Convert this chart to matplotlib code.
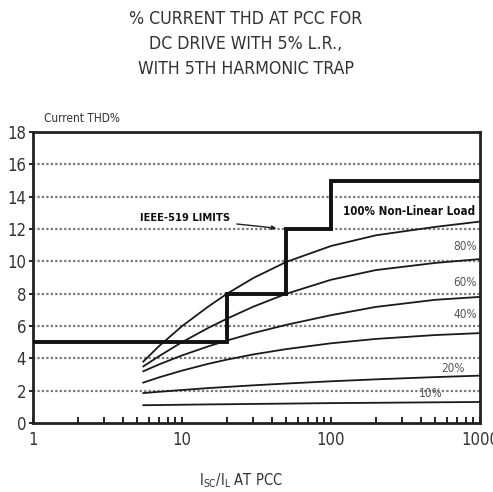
import matplotlib
matplotlib.use("Agg")
import matplotlib.pyplot as plt
from matplotlib import font_manager
from matplotlib.font_manager import FontProperties
import numpy as np

# pick a condensed face if one is installed
cond = [f for f in font_manager.fontManager.ttflist
        if ('Condensed' in f.fname or 'Narrow' in f.fname)]
def pick(bold=False):
    for f in cond:
        isbold = 'Bold' in f.fname
        if isbold == bold and 'Oblique' not in f.fname and 'Italic' not in f.fname:
            return f.fname
    return None
reg_file = pick(False)
bold_file = pick(True)
plt.rcParams['font.family'] = ['Liberation Sans', 'DejaVu Sans']

def fp(size, bold=False):
    fn = bold_file if bold else reg_file
    if fn:
        return FontProperties(fname=fn, size=size)
    return FontProperties(family=['Liberation Sans', 'DejaVu Sans'], size=size,
                          weight='bold' if bold else 'normal')

# ---- data ----
ratio = [5.5, 7, 10, 15, 20, 30, 50, 100, 200, 500, 1000]
load_100 = [3.8, 4.75, 5.99, 7.2, 7.99, 8.96, 9.96, 10.95, 11.61, 12.13, 12.46]
load_80 = [3.5, 4.13, 5.0, 5.88, 6.45, 7.19, 7.99, 8.86, 9.46, 9.9, 10.14]
load_60 = [3.2, 3.62, 4.18, 4.74, 5.1, 5.56, 6.07, 6.67, 7.18, 7.62, 7.8]
load_40 = [2.5, 2.82, 3.24, 3.66, 3.92, 4.24, 4.57, 4.93, 5.2, 5.44, 5.56]
load_20 = [1.85, 1.93, 2.04, 2.16, 2.23, 2.33, 2.44, 2.58, 2.7, 2.84, 2.93]
load_10 = [1.1, 1.11, 1.13, 1.15, 1.16, 1.18, 1.2, 1.23, 1.25, 1.28, 1.3]
series = [load_100, load_80, load_60, load_40, load_20, load_10]

ieee_x = [1, 20, 50, 100, 1000]
ieee_y = [5, 8, 12, 15, 15]

yticks = [0, 2, 4, 6, 8, 10, 12, 14, 16, 18]
xticks = [1, 10, 100, 1000]
xticklabels = ['1', '10', '100', '1000']

fig = plt.figure(figsize=(4.93, 4.92), dpi=100)
ax = fig.add_axes([33/493, 1-423/492, 447/493, 291/492])
ax.set_xscale('log')
ax.set_xlim(1, 1000)
ax.set_ylim(0, 18)

for yv in yticks[1:-1]:
    ax.axhline(yv, color='#777777', lw=1.6, ls=(0, (1, 1)), zorder=1)

for s in series:
    ax.plot(ratio, s, color='#1a1a1a', lw=1.3, zorder=3)

ax.step(ieee_x, ieee_y, where='post', color='#111111', lw=2.8, zorder=4,
        solid_joinstyle='miter')

for sp in ax.spines.values():
    sp.set_linewidth(2.0)
    sp.set_color('#222222')

ax.set_yticks(yticks)
ax.set_yticklabels([str(v) for v in yticks], color='#333333', fontproperties=fp(12))
ax.set_xticks(xticks)
ax.set_xticklabels(xticklabels, color='#333333', fontproperties=fp(12))
ax.tick_params(axis='y', which='both', direction='out', length=3, width=1.2, pad=2)
ax.tick_params(axis='x', which='major', direction='in', length=4, width=1.2, pad=6)
ax.tick_params(axis='x', which='minor', direction='in', length=4, width=1.2)
ax.xaxis.set_minor_formatter(matplotlib.ticker.NullFormatter())

kw = dict(color='#555555', ha='right', va='center', zorder=5, fontproperties=fp(8.5))
ax.text(930, 13.1, '100% Non-Linear Load', fontproperties=fp(8.3, True),
        color='#111111', ha='right', va='center', zorder=5)
ax.text(950, 10.9, '80%', **kw)
ax.text(950, 8.7, '60%', **kw)
ax.text(950, 6.7, '40%', **kw)
ax.text(790, 3.4, '20%', **kw)
ax.text(560, 1.85, '10%', **kw)

ax.annotate('IEEE-519 LIMITS', xy=(43, 12.05), xytext=(5.2, 12.65),
            fontproperties=fp(8.0, True), color='#111111', ha='left', va='center',
            arrowprops=dict(arrowstyle='-|>', color='#222222', lw=1.0,
                            mutation_scale=6, shrinkA=3, shrinkB=0), zorder=5)

title_lines = ['% CURRENT THD AT PCC FOR', 'DC DRIVE WITH 5% L.R.,', 'WITH 5TH HARMONIC TRAP']
for i, line in enumerate(title_lines):
    fig.text(246/493, 1-(19 + 25*i)/492, line, ha='center', va='center',
             color='#333333', fontproperties=fp(12.7 if reg_file else 11.5))
fig.text(44/493, 1-118/492, 'Current THD%', ha='left', va='center',
         color='#333333', fontproperties=fp(8.5))
fig.text(241/493, 1-481/492, r'I$_{\mathregular{SC}}$/I$_{\mathregular{L}}$ AT PCC',
         ha='center', va='center', color='#333333', fontproperties=fp(10.5))

fig.savefig('out.png', dpi=100, facecolor='white')
